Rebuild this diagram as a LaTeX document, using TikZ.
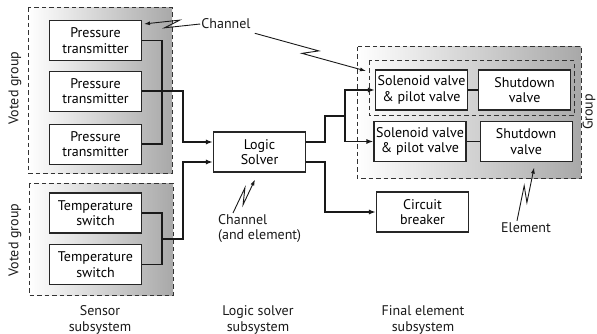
\documentclass[tikz,border=0pt]{standalone}
\usepackage{fontspec}
\setmainfont{PT Sans}
\usepackage{tikz}
\usetikzlibrary{arrows.meta, positioning, calc}

% lightning-style pointer between two points
\newcommand{\zaparrow}[2]{%
  \draw[zap] (#1) -- ($(#1)!0.5!(#2)!8.5pt!27:(#2)$) -- ($(#1)!0.5!(#2)!8.5pt!207:(#2)$) -- (#2);}

\begin{document}
\begin{tikzpicture}[
    x=1pt, y=-1pt,
    font=\fontsize{14}{15.5}\selectfont,
    box/.style={rectangle, draw=black!85, line width=1.1pt, fill=white, minimum width=92pt, minimum height=40pt, align=center, inner sep=1pt},
    grp/.style={draw=black!80, line width=1pt, dash pattern=on 4.5pt off 3pt},
    shaded/.style={left color=white, right color=black!34},
    wire/.style={line width=1.7pt, black!90},
    arrow/.style={wire, -{Latex[length=7pt, width=5pt]}},
    zap/.style={line width=0.9pt, black!90, -{Latex[length=6pt, width=4pt]}},
    lbl/.style={align=center, inner sep=1pt, text=black!90},
]
    \useasboundingbox (0,0) rectangle (597,334);

    % Groups
    \path[shaded] (28,8) rectangle (172,173);
    \draw[grp] (28,8) rectangle (172,173);
    \path[shaded] (29,183) rectangle (173,295);
    \draw[grp] (29,183) rectangle (173,295);
    \path[shaded] (357,47) rectangle (581,178);
    \draw[grp] (357,47) rectangle (581,178);
    \draw[grp] (369,61) rectangle (574,116);
    \coordinate (chantip) at (366,71);

    % Sensor subsystem
    \node[box] (pt1) at (95.5,40.5) {Pressure\\transmitter};
    \node[box, below=9.5pt of pt1] (pt2) {Pressure\\transmitter};
    \node[box, below=12pt of pt2] (pt3) {Pressure\\transmitter};
    \node[box] (ts1) at (95.5,213) {Temperature\\switch};
    \node[box, below=10.5pt of ts1] (ts2) {Temperature\\switch};

    % Logic solver
    \node[box] (ls) at (259.5,152) {Logic\\Solver};

    % Final elements
    \node[box] (sv1) at (421.5,90) {Solenoid valve\\\& pilot valve};
    \node[box, right=10pt of sv1] (sd1) {Shutdown\\valve};
    \node[box] (sv2) at (420,141.5) {Solenoid valve\\\& pilot valve};
    \node[box, right=13pt of sv2] (sd2) {Shutdown\\valve};
    \node[box] (cb) at (422.5,212) {Circuit\\breaker};

    % Labels
    \node[lbl, rotate=90] (vg1) at (15,88) {Voted group};
    \node[lbl, rotate=90] (vg2) at (15,240) {Voted group};
    \node[lbl, rotate=90] (grplbl) at (589,112) {Group};
    \node[lbl] (chan1) at (226,24) {Channel};
    \node[lbl, align=left, anchor=north west] (chan2) at (217,213) {Channel\\(and element)};
    \node[lbl] (elem) at (526,228) {Element};
    \node[lbl] (sensor) at (100,320) {Sensor\\subsystem};
    \node[lbl] (logic) at (258,320) {Logic solver\\subsystem};
    \node[lbl] (final) at (423,320) {Final element\\subsystem};

    % Wiring
    \draw[wire] (pt1.east) -- ++(20,0) |- (pt3.east);
    \draw[arrow] (pt2.east) -- ++(41,0) |- ([yshift=10pt]ls.west);
    \draw[wire] (ts1.east) -- ++(20,0) |- (ts2.east);
    \draw[arrow] ($(ts1.east)!0.5!(ts2.east)+(20,0)$) -- ++(21,0) |- ([yshift=-10pt]ls.west);
    \coordinate (fork) at (345,116);
    \draw[wire] ([yshift=10pt]ls.east) -- ++(19,0) |- (fork);
    \draw[arrow] (fork) |- (sv1.west);
    \draw[arrow] (fork) |- (sv2.west);
    \draw[arrow] ([yshift=-10pt]ls.east) -- ++(19,0) |- (cb.west);
    \draw[wire] (sv1) -- (sd1);
    \draw[wire] (sv2) -- (sd2);

    % Pointers
    \zaparrow{chan1.west}{$(pt1.north east)+(2,4)$}
    \zaparrow{$(chan1.south east)+(3,3)$}{chantip}
    \zaparrow{$(chan2.north west)+(16,0)$}{$(ls.south)+(-4.5,7)$}
    \zaparrow{$(elem.north)+(-9,-1)$}{$(sd2.south)+(8,5.5)$}
\end{tikzpicture}
\end{document}
